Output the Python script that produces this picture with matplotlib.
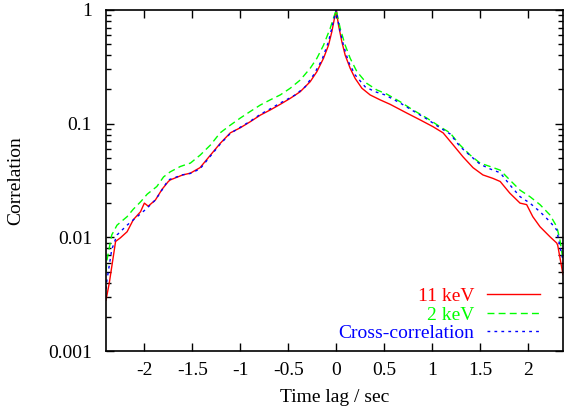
import numpy as np
import matplotlib
matplotlib.use("Agg")
import matplotlib.pyplot as plt
from matplotlib.ticker import LogLocator, NullFormatter

plt.rcParams['font.family'] = ['Liberation Serif', 'DejaVu Serif']
plt.rcParams['font.size'] = 14

# 11 keV auto-correlation
x_11 = [-2.40, -2.365, -2.30, -2.25, -2.18, -2.115, -2.04, -2.00, -1.96, -1.885,
        -1.815, -1.75, -1.73, -1.60, -1.52, -1.42, -1.31, -1.21, -1.104, -1.00,
        -0.896, -0.79, -0.6875, -0.583, -0.479, -0.375, -0.271, -0.201, -0.132, -0.080,
        -0.045, -0.018, 0.0, 0.024, 0.059, 0.094, 0.146, 0.198, 0.268, 0.354,
        0.458, 0.5625, 0.736, 0.875, 1.01, 1.115, 1.22, 1.323, 1.427, 1.53,
        1.635, 1.71, 1.81, 1.917, 1.986, 2.05, 2.125, 2.23, 2.30, 2.31,
        2.365]
y_11 = [0.0028, 0.004, 0.0092, 0.0099, 0.0112, 0.0143, 0.0168, 0.020, 0.0188, 0.0213,
        0.0265, 0.031, 0.032, 0.0354, 0.0367, 0.041, 0.053, 0.067, 0.083, 0.092,
        0.104, 0.119, 0.132, 0.148, 0.167, 0.191, 0.234, 0.287, 0.376, 0.49,
        0.645, 0.845, 1.0, 0.738, 0.526, 0.40, 0.307, 0.25, 0.205, 0.179,
        0.162, 0.148, 0.124, 0.108, 0.094, 0.083, 0.065, 0.051, 0.041, 0.0354,
        0.033, 0.031, 0.0245, 0.020, 0.0194, 0.0152, 0.0124, 0.0101, 0.0089, 0.0085,
        0.0047]

# 2 keV auto-correlation
x_2 = [-2.40, -2.39, -2.34, -2.285, -2.18, -2.115, -2.04, -1.97, -1.87, -1.80,
       -1.73, -1.625, -1.52, -1.417, -1.31, -1.21, -1.104, -1.00, -0.896, -0.79,
       -0.6875, -0.583, -0.479, -0.375, -0.271, -0.201, -0.132, -0.0625, -0.028, 0.0,
       0.042, 0.094, 0.146, 0.216, 0.32, 0.424, 0.528, 0.667, 0.80, 0.945,
       1.083, 1.1875, 1.29, 1.396, 1.50, 1.604, 1.71, 1.81, 1.917, 2.02,
       2.125, 2.23, 2.30, 2.333, 2.365]
y_2 = [0.005, 0.0063, 0.0105, 0.0128, 0.0152, 0.0177, 0.0205, 0.024, 0.028, 0.034,
       0.0377, 0.042, 0.045, 0.053, 0.065, 0.083, 0.097, 0.112, 0.128, 0.146,
       0.162, 0.179, 0.205, 0.242, 0.307, 0.376, 0.49, 0.69, 0.85, 1.0,
       0.69, 0.49, 0.376, 0.287, 0.226, 0.198, 0.182, 0.156, 0.132, 0.112,
       0.094, 0.083, 0.065, 0.053, 0.045, 0.042, 0.039, 0.032, 0.026, 0.0228,
       0.0194, 0.0157, 0.0124, 0.0095, 0.0063]

# cross-correlation
x_c = [-2.40, -2.39, -2.34, -2.285, -2.18, -2.075, -1.99, -1.885, -1.815, -1.75,
       -1.60, -1.52, -1.42, -1.31, -1.21, -1.104, -1.00, -0.896, -0.79, -0.6875,
       -0.583, -0.531, -0.427, -0.323, -0.236, -0.149, -0.080, -0.028, 0.0, 0.034,
       0.076, 0.128, 0.198, 0.302, 0.406, 0.51, 0.667, 0.80, 0.945, 1.083,
       1.19, 1.29, 1.396, 1.50, 1.604, 1.71, 1.81, 1.917, 2.02, 2.125,
       2.23, 2.30, 2.333, 2.365]
y_c = [0.0035, 0.0042, 0.0078, 0.0105, 0.0128, 0.0152, 0.0175, 0.0213, 0.0262, 0.032,
       0.0355, 0.0365, 0.040, 0.052, 0.066, 0.082, 0.093, 0.105, 0.121, 0.135,
       0.152, 0.16, 0.179, 0.211, 0.268, 0.363, 0.526, 0.8, 1.0, 0.69,
       0.49, 0.35, 0.268, 0.211, 0.191, 0.179, 0.152, 0.13, 0.11, 0.092,
       0.081, 0.063, 0.0525, 0.044, 0.040, 0.037, 0.029, 0.0228, 0.020, 0.0168,
       0.0137, 0.0116, 0.0083, 0.0063]

x_ticks = [-2, -1.5, -1, -0.5, 0, 0.5, 1, 1.5, 2]
x_ticklabels = ['-2', '-1.5', '-1', '-0.5', '0', '0.5', '1', '1.5', '2']
y_ticks = [0.001, 0.01, 0.1, 1]
y_ticklabels = ['0.001', '0.01', '0.1', '1']

fig = plt.figure(figsize=(5.64, 4.18), dpi=100)
ax = fig.add_axes([106 / 564, 1 - 351 / 418, (563 - 106) / 564, (351 - 10) / 418])

ax.plot(x_11, y_11, color='#ff0000', lw=1.0, label='11 keV')
ax.plot(x_2, y_2, color='#00ff00', lw=1.0, dashes=(5, 3), label='2 keV')
ax.plot(x_c, y_c, color='#0000ff', lw=1.0, dashes=(2, 3), label='Cross-correlation')

ax.set_yscale('log')
ax.set_xlim(-2.4, 2.365)
ax.set_ylim(0.001, 1)
ax.set_xticks(x_ticks)
ax.set_xticklabels(x_ticklabels)
ax.set_yticks(y_ticks)
ax.set_yticklabels(y_ticklabels)
ax.yaxis.set_minor_locator(LogLocator(base=10, subs=np.arange(2, 10)))
ax.yaxis.set_minor_formatter(NullFormatter())

ax.tick_params(which='both', direction='in', top=True, right=True, width=1.0)
ax.tick_params(which='major', length=6, pad=8)
ax.tick_params(axis='y', which='major', pad=10)
ax.tick_params(which='minor', length=3.5)
for s in ax.spines.values():
    s.set_linewidth(1.2)

ax.set_xlabel('Time lag / sec', labelpad=7)
ax.set_ylabel('Correlation', labelpad=17)

leg = ax.legend(loc='lower right', bbox_to_anchor=(0.967, 0.003), frameon=False,
                markerfirst=False, handlelength=2.75, handletextpad=0.65,
                labelspacing=0.05, borderaxespad=0)
for txt, line in zip(leg.get_texts(), leg.get_lines()):
    txt.set_color(line.get_color())

fig.savefig('out.png', dpi=100)
